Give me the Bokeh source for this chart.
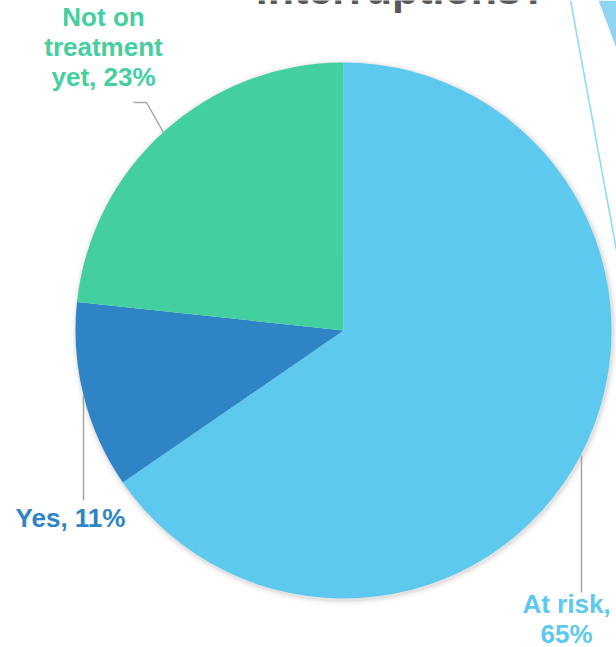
import math
from bokeh.plotting import figure
from bokeh.models import Range1d
from bokeh.core.properties import value
from bokeh.embed import file_html
from bokeh.resources import INLINE

# ---- data ----
categories = ["At risk", "Yes", "Not on treatment yet"]
shares = [65.4, 11.3, 23.3]
colors = ["#5DC9EE", "#2E84C4", "#43CFA0"]
label_lines = [["At risk,", "65%"], ["Yes, 11%"], ["Not on", "treatment", "yet, 23%"]]
title_text = "interruptions?"

W, H = 616, 647

def Y(sy):
    return H - sy

p = figure(width=W, height=H, output_backend="svg", toolbar_location=None,
           x_range=Range1d(0, W), y_range=Range1d(0, H),
           min_border=0, background_fill_color="white", border_fill_color="white")
p.axis.visible = False
p.grid.visible = False
p.outline_line_color = None

cx, cy, r = 343, Y(330), 268

# decorative light-blue shapes at top right
p.line(x=[570, 616], y=[Y(0), Y(250)], line_color="#8DD8F2", line_width=1.5)
p.patch(x=[598, 616, 616], y=[Y(0), Y(0), Y(48)], fill_color="#8DD5F0", line_color=None)

# soft shadow around the pie
for k, a in [(6, 0.03), (4, 0.05), (2.5, 0.07), (1.2, 0.09)]:
    p.circle(x=cx + 1, y=cy - 1.5, radius=r + k, fill_color="#808080", fill_alpha=a,
             line_color=None)

total = sum(shares)
cum = 0.0
for cat, s, c in zip(categories, shares, colors):
    start = math.pi / 2 - 2 * math.pi * cum / total
    cum += s
    end = math.pi / 2 - 2 * math.pi * cum / total
    p.wedge(x=cx, y=cy, radius=r, start_angle=start, end_angle=end, direction="clock",
            fill_color=c, line_color=None)

# leader lines
lead = "#A6A6A6"
p.line(x=[581, 581], y=[Y(455), Y(592)], line_color=lead, line_width=1.5)
p.line(x=[83, 83], y=[Y(395), Y(500)], line_color=lead, line_width=1.5)
p.line(x=[133, 146, 163], y=[Y(102), Y(102), Y(132)], line_color=lead, line_width=1.5)

# labels
fnt = value("Liberation Sans")
label_pos = [(566, [603, 633]), (70, [517]), (103, [16, 46, 76])]
for lines, c, (lx, ys) in zip(label_lines, colors, label_pos):
    for t, sy in zip(lines, ys):
        p.text(x=[lx], y=[Y(sy)], text=[t], text_color=c, text_font=fnt,
               text_font_style="bold", text_font_size="26px", text_align="center",
               text_baseline="alphabetic")

# partially visible title (cut off at the top edge, as in the reference)
p.text(x=[401], y=[Y(-12)], text=[title_text], text_color="#595959", text_font=fnt,
       text_font_style="bold", text_font_size="43px", text_align="center",
       text_baseline="alphabetic")

open("out.html", "w").write(file_html(p, INLINE))
